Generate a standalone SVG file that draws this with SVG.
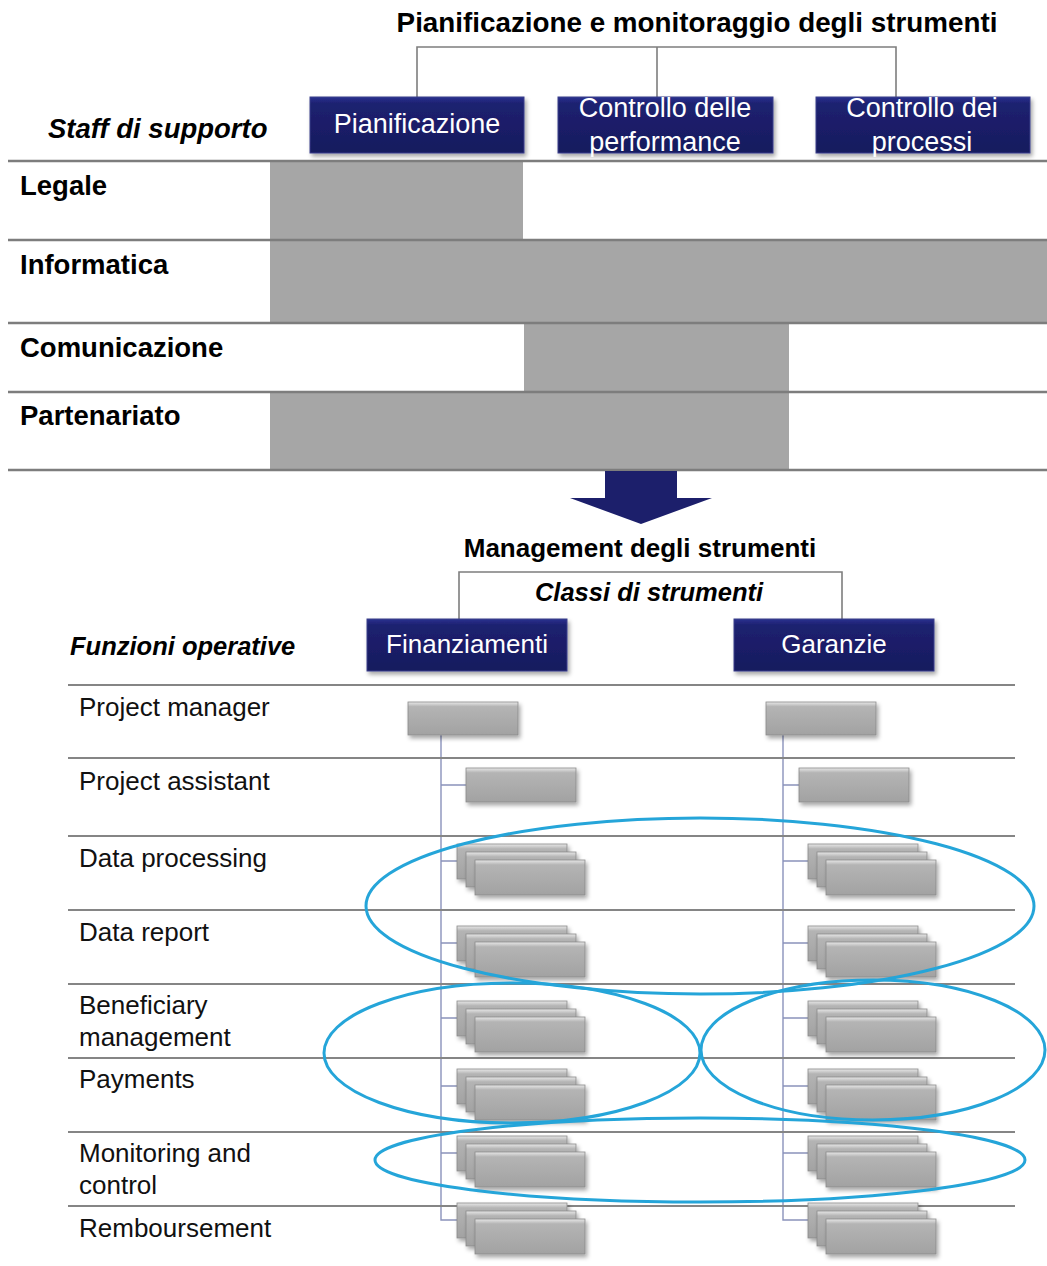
<svg xmlns="http://www.w3.org/2000/svg" width="1047" height="1266" viewBox="0 0 1047 1266">
<style>
.b{font-family:"Liberation Sans",Arial,sans-serif;font-weight:bold;fill:#000}
.bi{font-family:"Liberation Sans",Arial,sans-serif;font-weight:bold;font-style:italic;fill:#000}
.r{font-family:"Liberation Sans",Arial,sans-serif;fill:#111;font-size:26px}
.bt{font-family:"Liberation Sans",Arial,sans-serif;fill:#fff;font-size:27px;text-anchor:middle}
.tl{stroke:#7d7d7d;stroke-width:2.5}
.bl{stroke:#858585;stroke-width:2}
.fill{fill:#a6a6a6}
.con{stroke:#7e7e7e;stroke-width:1.6;fill:none}
.tree{stroke:#8a92bb;stroke-width:1.4;fill:none}
.ell{fill:none;stroke:#25a5d9;stroke-width:3}
.nav{fill:url(#navy);stroke:#3a3f8a;stroke-width:1}
.gb{fill:url(#gray);stroke:#8a8a8a;stroke-width:0.8}
</style>
<defs>
<linearGradient id="navy" x1="0" y1="0" x2="0" y2="1">
<stop offset="0" stop-color="#2b3190"/>
<stop offset="0.12" stop-color="#1d2170"/>
<stop offset="1" stop-color="#171a5e"/>
</linearGradient>
<linearGradient id="gray" x1="0" y1="0" x2="0" y2="1">
<stop offset="0" stop-color="#e8e8e8"/>
<stop offset="0.14" stop-color="#b4b4b4"/>
<stop offset="1" stop-color="#a2a2a2"/>
</linearGradient>
<filter id="sh" x="-10%" y="-10%" width="130%" height="140%">
<feDropShadow dx="2" dy="3" stdDeviation="2" flood-color="#000" flood-opacity="0.35"/>
</filter>
<g id="stack">
<rect class="gb" x="0" y="0" width="110" height="35" filter="url(#sh)"/>
<rect class="gb" x="9" y="8" width="110" height="35" filter="url(#sh)"/>
<rect class="gb" x="18" y="16" width="110" height="35" filter="url(#sh)"/>
</g>
</defs>
<rect width="1047" height="1266" fill="#fff"/>

<!-- top section -->
<text class="b" x="697" y="32" font-size="27.8" text-anchor="middle">Pianificazione e monitoraggio degli strumenti</text>
<text class="bi" x="48" y="138" font-size="27.5">Staff di supporto</text>

<g id="connectors">
<path class="con" d="M417 97V47H896V97M657 47V97"/>
<path class="con" d="M459 620V572H842V620"/>
<path class="tree" d="M441 735V1220H457M441 785H466M441 861H457M441 943H457M441 1018H457M441 1086H457M441 1153H457"/>
<path class="tree" d="M783 735V1220H808M783 785H799M783 861H808M783 943H808M783 1018H808M783 1086H808M783 1153H808"/>
</g>

<g id="node-pianificazione"><rect class="nav" x="310" y="97" width="214" height="56" filter="url(#sh)"/><text class="bt" x="417" y="133">Pianificazione</text></g>
<g id="node-controllo-performance"><rect class="nav" x="558" y="97" width="215" height="56" filter="url(#sh)"/><text class="bt" x="665" y="117">Controllo delle</text><text class="bt" x="665" y="151">performance</text></g>
<g id="node-controllo-processi"><rect class="nav" x="816" y="97" width="214" height="56" filter="url(#sh)"/><text class="bt" x="922" y="117">Controllo dei</text><text class="bt" x="922" y="151">processi</text></g>

<g id="staff-table">
<rect class="fill" x="270" y="162" width="253" height="78"/>
<rect class="fill" x="270" y="241" width="777" height="82"/>
<rect class="fill" x="524" y="324" width="265" height="68"/>
<rect class="fill" x="270" y="393" width="519" height="77"/>
<line class="tl" x1="8" y1="161" x2="1047" y2="161"/>
<line class="tl" x1="8" y1="240" x2="1047" y2="240"/>
<line class="tl" x1="8" y1="323" x2="1047" y2="323"/>
<line class="tl" x1="8" y1="392" x2="1047" y2="392"/>
<line class="tl" x1="8" y1="470" x2="1047" y2="470"/>
<text class="b" x="20" y="195" font-size="27.5">Legale</text>
<text class="b" x="20" y="274" font-size="27.5">Informatica</text>
<text class="b" x="20" y="357" font-size="27.5">Comunicazione</text>
<text class="b" x="20" y="425" font-size="27.5">Partenariato</text>
</g>

<g id="arrow"><path d="M605 471H677V498H712L641 524L570 498H605Z" fill="#1c1f6b"/></g>

<!-- bottom section -->
<text class="b" x="640" y="557" font-size="26" text-anchor="middle">Management degli strumenti</text>
<text class="bi" x="649" y="601" font-size="25.5" text-anchor="middle">Classi di strumenti</text>
<text class="bi" x="70" y="655" font-size="25.5">Funzioni operative</text>

<g id="node-finanziamenti"><rect class="nav" x="367" y="619" width="200" height="52" filter="url(#sh)"/><text class="bt" x="467" y="653" style="font-size:26px">Finanziamenti</text></g>
<g id="node-garanzie"><rect class="nav" x="734" y="619" width="200" height="52" filter="url(#sh)"/><text class="bt" x="834" y="653" style="font-size:26px">Garanzie</text></g>

<g id="functions-table">
<line class="bl" x1="68" y1="685" x2="1015" y2="685"/>
<line class="bl" x1="68" y1="758" x2="1015" y2="758"/>
<line class="bl" x1="68" y1="836" x2="1015" y2="836"/>
<line class="bl" x1="68" y1="910" x2="1015" y2="910"/>
<line class="bl" x1="68" y1="984" x2="1015" y2="984"/>
<line class="bl" x1="68" y1="1058" x2="1015" y2="1058"/>
<line class="bl" x1="68" y1="1132" x2="1015" y2="1132"/>
<line class="bl" x1="68" y1="1206" x2="1015" y2="1206"/>
<text class="r" x="79" y="716">Project manager</text>
<text class="r" x="79" y="790">Project assistant</text>
<text class="r" x="79" y="867">Data processing</text>
<text class="r" x="79" y="941">Data report</text>
<text class="r" x="79" y="1014">Beneficiary</text>
<text class="r" x="79" y="1046">management</text>
<text class="r" x="79" y="1088">Payments</text>
<text class="r" x="79" y="1162">Monitoring and</text>
<text class="r" x="79" y="1194">control</text>
<text class="r" x="79" y="1237">Remboursement</text>
</g>

<g id="node-pm-fin"><rect class="gb" x="408" y="702" width="110" height="33" filter="url(#sh)"/></g>
<g id="node-pm-gar"><rect class="gb" x="766" y="702" width="110" height="33" filter="url(#sh)"/></g>
<g id="node-pa-fin"><rect class="gb" x="466" y="768" width="110" height="34" filter="url(#sh)"/></g>
<g id="node-pa-gar"><rect class="gb" x="799" y="768" width="110" height="34" filter="url(#sh)"/></g>

<g id="node-dp-fin"><use href="#stack" x="457" y="844"/></g>
<g id="node-dp-gar"><use href="#stack" x="808" y="844"/></g>
<g id="node-dr-fin"><use href="#stack" x="457" y="926"/></g>
<g id="node-dr-gar"><use href="#stack" x="808" y="926"/></g>
<g id="node-bm-fin"><use href="#stack" x="457" y="1001"/></g>
<g id="node-bm-gar"><use href="#stack" x="808" y="1001"/></g>
<g id="node-pay-fin"><use href="#stack" x="457" y="1069"/></g>
<g id="node-pay-gar"><use href="#stack" x="808" y="1069"/></g>
<g id="node-mon-fin"><use href="#stack" x="457" y="1136"/></g>
<g id="node-mon-gar"><use href="#stack" x="808" y="1136"/></g>
<g id="node-rem-fin"><use href="#stack" x="457" y="1203"/></g>
<g id="node-rem-gar"><use href="#stack" x="808" y="1203"/></g>

<g id="groupings">
<ellipse class="ell" cx="700" cy="906" rx="334" ry="88"/>
<ellipse class="ell" cx="512" cy="1053" rx="188" ry="70"/>
<ellipse class="ell" cx="873" cy="1050" rx="172" ry="70"/>
<ellipse class="ell" cx="700" cy="1160" rx="325" ry="42"/>
</g>
</svg>
